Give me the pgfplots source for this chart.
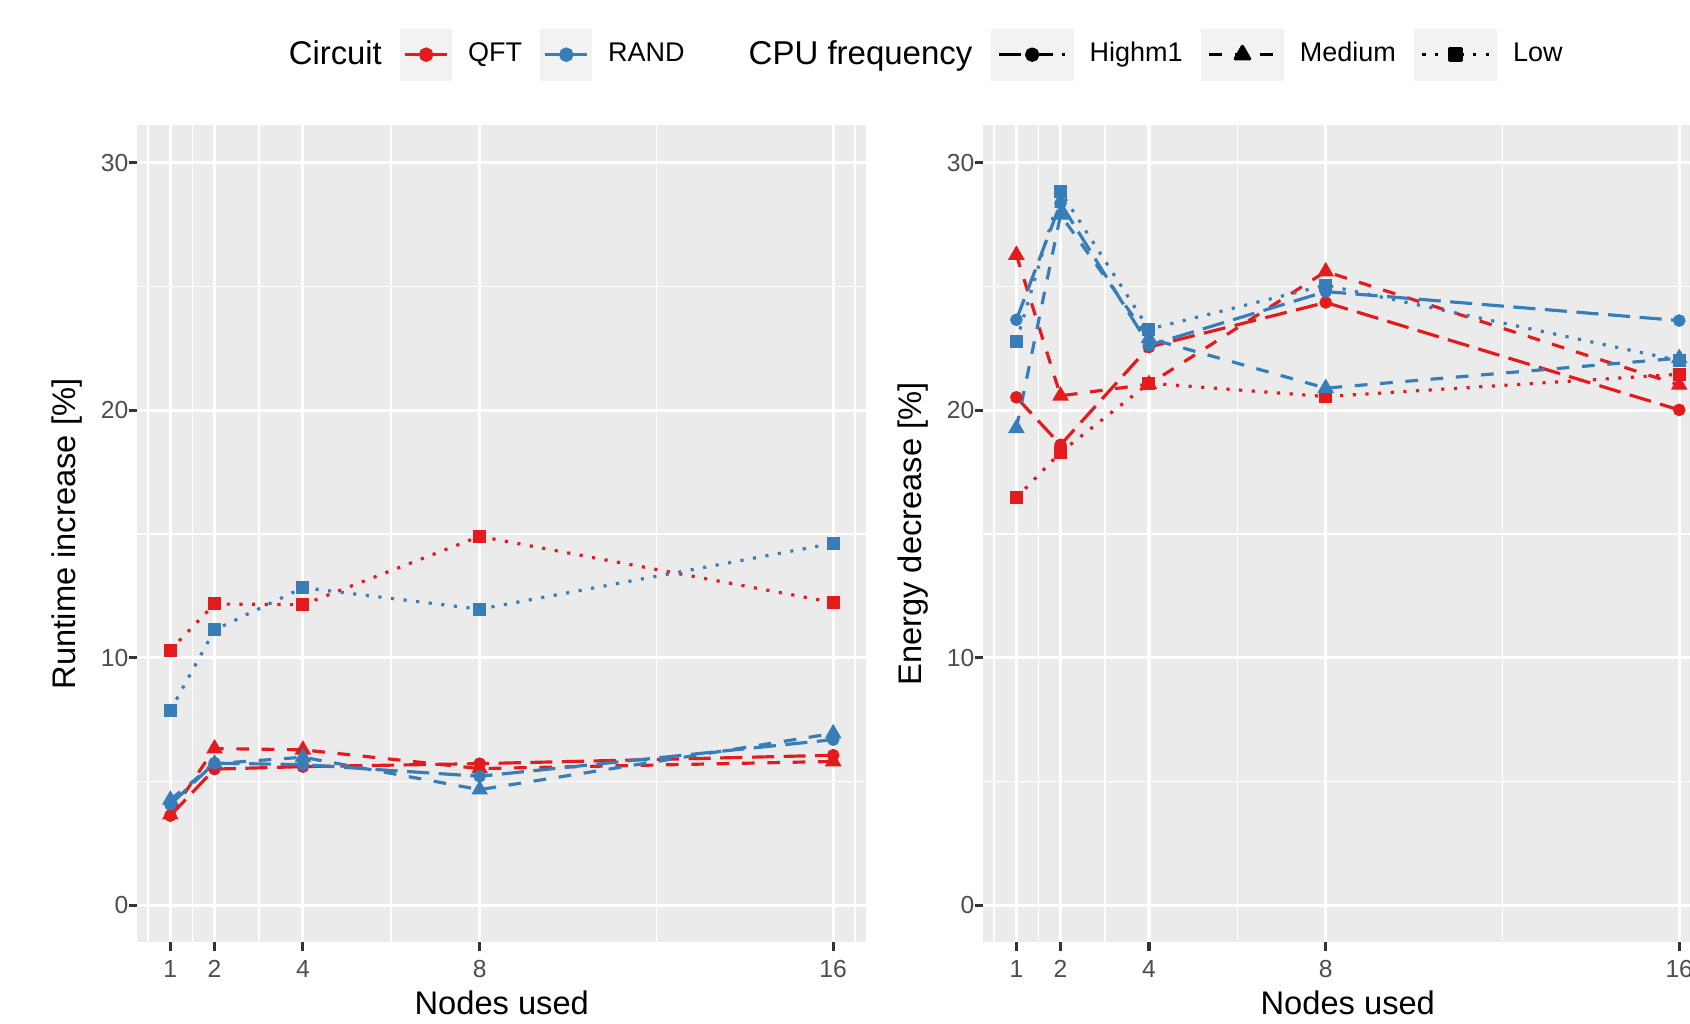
\documentclass[border=0pt]{standalone}
\usepackage{pgfplots}
\pgfplotsset{compat=1.18}
\usepackage{pgfplotstable}
\usepackage{fontspec}
\setmainfont{Liberation Sans}

\definecolor{qft}{HTML}{E41A1C}
\definecolor{rnd}{HTML}{377EB8}
\definecolor{panelbg}{HTML}{EBEBEB}
\definecolor{keybg}{HTML}{F2F2F2}
\definecolor{ticktext}{HTML}{4D4D4D}
\definecolor{tickline}{HTML}{333333}

% nodes: 1 2 4 8 16; H = Highm1, M = Medium, L = Low
\pgfplotstableread{
x  qH    qM    qL    rH    rM    rL
1  3.62  3.66  10.31 4.07  4.26  7.86
2  5.50  6.33  12.17 5.74  5.72  11.12
4  5.60  6.28  12.14 5.68  5.98  12.83
8  5.72  5.52  14.90 5.21  4.67  11.96
16 6.06  5.81  12.23 6.69  6.94  14.62
}\runtime
\pgfplotstableread{
x  qH    qM    qL    rH    rM    rL
1  20.52 26.27 16.46 23.65 19.27 22.77
2  18.60 20.58 18.30 28.36 27.89 28.83
4  22.55 21.05 21.09 22.62 22.90 23.27
8  24.35 25.60 20.55 24.79 20.89 25.05
16 20.01 21.02 21.45 23.62 22.10 22.00
}\energy

\pgfplotsset{
  gg/.style={
    scale only axis, width=218.74pt, height=245.07pt,
    xmin=0.25, xmax=16.75, ymin=-1.5, ymax=31.5,
    axis background/.style={fill=panelbg},
    axis line style={draw=none},
    xtick={1,2,4,8,16}, ytick={0,10,20,30},
    minor xtick={0.5,1.5,3,6,12,16.5}, minor ytick={5,15,25},
    xtick pos=bottom, ytick pos=left,
    grid=both,
    major grid style={white, line width=0.95pt},
    minor grid style={white, line width=0.48pt},
    tick align=outside, major tick length=2.45pt, minor tick length=0pt,
    every tick/.style={tickline, line width=0.95pt},
    /pgf/number format/assume math mode=true,
    ticklabel style={font=\fontsize{7.4}{8}\selectfont, text=ticktext, inner sep=0pt},
    xticklabel style={yshift=-2.7pt},
    xlabel={Nodes used},
    xlabel style={at={(axis description cs:0.5,-0.0886)}, anchor=base, inner sep=0pt, font=\fontsize{9.8}{11}\selectfont},
    ylabel style={at={(axis description cs:-0.085,0.5)}, anchor=base, inner sep=0pt, font=\fontsize{9.8}{11}\selectfont},
  },
  hi/.style={line width=0.95pt, line join=round, dash pattern=on 6.65pt off 2.85pt},
  me/.style={line width=0.95pt, line join=round, dash pattern=on 3.8pt off 3.8pt},
  lo/.style={line width=0.95pt, line join=round, dash pattern=on 0.95pt off 2.85pt},
  pH/.style={only marks, mark=*, mark size=1.7pt, mark options={draw=none}},
  pM/.style={only marks, mark=triangle*, mark size=2.5pt, mark options={draw=none}},
  pL/.style={only marks, mark=square*, mark size=1.75pt, mark options={draw=none}},
  % key images: 5pt gap before the key, 4.3pt gap after it
  keyS/.style={legend image code/.code={
    \path (0pt,0pt) (24.9pt,0pt);
    \fill[keybg, draw=none, solid] (5pt,-7.8pt) rectangle (20.6pt,7.8pt);
    \draw[##1, mark repeat=2, mark phase=2] plot coordinates {(6.56pt,0pt) (12.8pt,0pt) (19.04pt,0pt)};}},
  keyW/.style={legend image code/.code={
    \path (0pt,0pt) (34.2pt,0pt);
    \fill[keybg, draw=none, solid] (5pt,-7.8pt) rectangle (29.9pt,7.8pt);
    \draw[##1, mark repeat=2, mark phase=2] plot coordinates {(7.49pt,0pt) (17.45pt,0pt) (27.41pt,0pt)};}},
}

\begin{document}
\begin{tikzpicture}
\begin{axis}[gg, at={(41.16pt,24.48pt)}, anchor=south west,
  ylabel={Runtime increase [\%]},
  legend columns=-1,
  legend style={at={(axis description cs:0.208,1.0867)}, anchor=west,
    draw=none, fill=none, inner sep=0pt, outer sep=0pt, column sep=0pt,
    font=\fontsize{8.1}{9}\selectfont, nodes={inner sep=0pt}},
]
\addplot[forget plot, qft, hi] table[x=x, y=qH] {\runtime};
\addplot[forget plot, qft, me] table[x=x, y=qM] {\runtime};
\addplot[forget plot, qft, lo] table[x=x, y=qL] {\runtime};
\addplot[forget plot, rnd, hi] table[x=x, y=rH] {\runtime};
\addplot[forget plot, rnd, me] table[x=x, y=rM] {\runtime};
\addplot[forget plot, rnd, lo] table[x=x, y=rL] {\runtime};
\addplot[forget plot, qft, pH] table[x=x, y=qH] {\runtime};
\addplot[forget plot, qft, pM] table[x=x, y=qM] {\runtime};
\addplot[forget plot, qft, pL] table[x=x, y=qL] {\runtime};
\addplot[forget plot, rnd, pH] table[x=x, y=rH] {\runtime};
\addplot[forget plot, rnd, pM] table[x=x, y=rM] {\runtime};
\addplot[forget plot, rnd, pL] table[x=x, y=rL] {\runtime};

\addlegendimage{legend image code/.code={}}
\addlegendentry{\fontsize{9.85}{11}\selectfont Circuit}
\addlegendimage{keyS, qft, line width=0.95pt, mark=*, mark size=1.7pt, mark options={draw=none}}
\addlegendentry{QFT}
\addlegendimage{keyS, rnd, line width=0.95pt, mark=*, mark size=1.7pt, mark options={draw=none}}
\addlegendentry{RAND}
\addlegendimage{legend image code/.code={\path (0pt,0pt) (18.8pt,0pt);}}
\addlegendentry{\fontsize{9.9}{11}\selectfont CPU frequency}
\addlegendimage{keyW, black, hi, mark=*, mark size=1.7pt, mark options={draw=none, solid}}
\addlegendentry{Highm1}
\addlegendimage{keyW, black, me, mark=triangle*, mark size=2.5pt, mark options={draw=none, solid}}
\addlegendentry{Medium}
\addlegendimage{keyW, black, lo, mark=square*, mark size=1.75pt, mark options={draw=none, solid}}
\addlegendentry{Low}
\end{axis}

\begin{axis}[gg, at={(294.97pt,24.48pt)}, anchor=south west,
  ylabel={Energy decrease [\%]},
]
\addplot[forget plot, qft, hi] table[x=x, y=qH] {\energy};
\addplot[forget plot, qft, me] table[x=x, y=qM] {\energy};
\addplot[forget plot, qft, lo] table[x=x, y=qL] {\energy};
\addplot[forget plot, rnd, hi] table[x=x, y=rH] {\energy};
\addplot[forget plot, rnd, me] table[x=x, y=rM] {\energy};
\addplot[forget plot, rnd, lo] table[x=x, y=rL] {\energy};
\addplot[forget plot, qft, pH] table[x=x, y=qH] {\energy};
\addplot[forget plot, qft, pM] table[x=x, y=qM] {\energy};
\addplot[forget plot, qft, pL] table[x=x, y=qL] {\energy};
\addplot[forget plot, rnd, pH] table[x=x, y=rH] {\energy};
\addplot[forget plot, rnd, pM] table[x=x, y=rM] {\energy};
\addplot[forget plot, rnd, pL] table[x=x, y=rL] {\energy};
\end{axis}

\pgfresetboundingbox
\path[use as bounding box] (0,0) rectangle (507pt,307.2pt);
\end{tikzpicture}
\end{document}
